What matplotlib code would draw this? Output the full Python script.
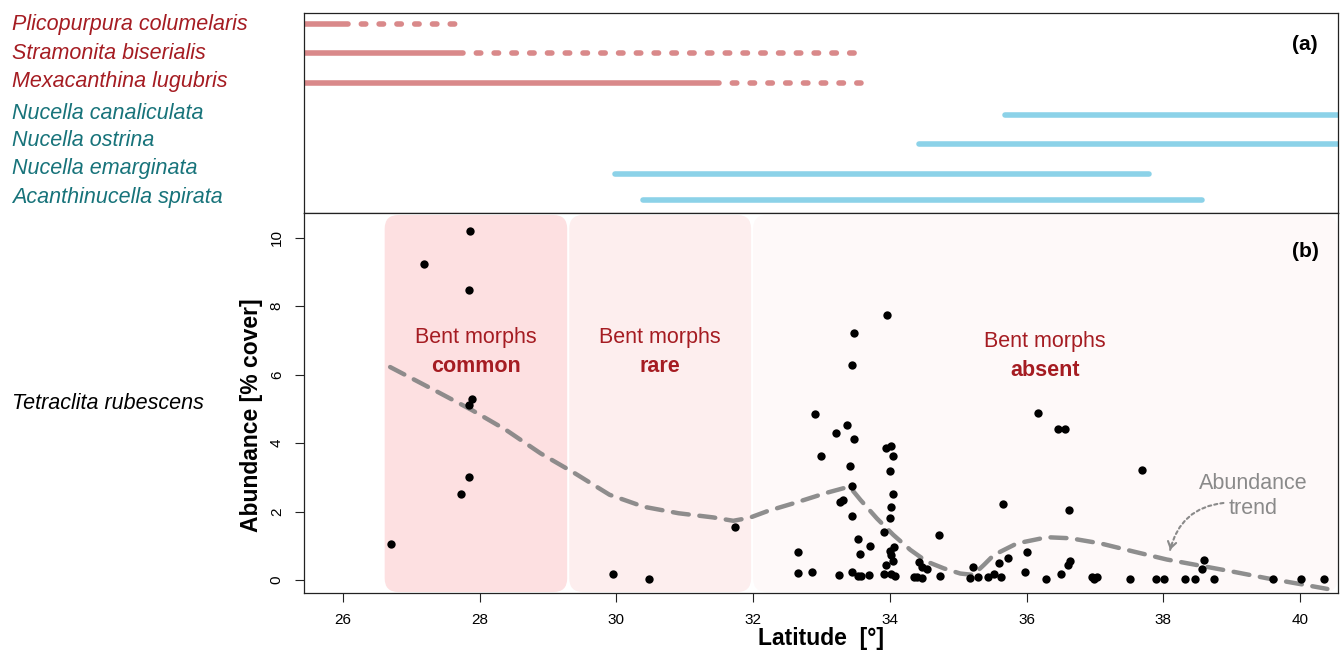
import numpy as np
import matplotlib.pyplot as plt
from matplotlib.patches import FancyBboxPatch, FancyArrowPatch
from matplotlib.transforms import blended_transform_factory

plt.rcParams['font.family'] = ['Liberation Sans', 'DejaVu Sans']

# ---- panel (a): species ranges ----
species = ['Plicopurpura columelaris', 'Stramonita biserialis', 'Mexacanthina lugubris',
           'Nucella canaliculata', 'Nucella ostrina', 'Nucella emarginata',
           'Acanthinucella spirata']
southern = [True, True, True, False, False, False, False]
row_y = [7.0, 6.0, 5.0, 3.9, 2.9, 1.9, 1.0]
label_y = [6.97, 6.00, 5.04, 3.94, 3.03, 2.07, 1.10]
range_start = [20.0, 20.0, 20.0, 35.69, 34.43, 29.98, 30.39]
solid_end = [26.07, 27.75, 31.50, 45.0, 45.0, 37.79, 38.57]
dashed_end = [27.64, 33.49, 33.58, None, None, None, None]

# ---- panel (b): Tetraclita rubescens abundance ----
lat = [26.70, 27.18, 27.86, 27.84, 27.89, 27.84, 27.85, 27.72, 29.95, 30.47, 31.73,
       33.96, 33.48, 33.45, 32.91, 33.38, 33.21, 33.47, 33.94, 34.02, 34.04,
       32.99, 33.41, 34.00, 33.44, 34.05, 33.27, 33.31, 34.02, 33.44, 34.00,
       33.91, 34.72, 33.54, 33.71, 32.66, 34.06, 34.00, 33.57, 34.02, 34.05,
       33.94, 34.43, 34.47, 34.54, 32.66, 32.86, 33.26, 33.45, 33.53, 33.58,
       33.70, 33.91, 34.01, 34.07, 34.35, 34.40, 34.47, 34.73,
       36.17, 36.46, 36.56, 37.69, 35.65, 36.62, 36.01, 35.73, 35.60, 35.22,
       36.63, 36.60, 35.98, 36.51, 38.59, 38.57, 35.17, 35.29, 35.44, 35.53,
       35.63, 36.28, 36.96, 36.99, 37.03, 37.52, 37.90, 38.01, 38.32, 38.46,
       38.74, 39.61, 40.02, 40.35]
abundance = [1.05, 9.23, 10.18, 8.47, 5.30, 5.11, 3.02, 2.52, 0.17, 0.03, 1.56,
             7.73, 7.21, 6.29, 4.85, 4.52, 4.28, 4.12, 3.85, 3.90, 3.63,
             3.63, 3.33, 3.18, 2.76, 2.51, 2.28, 2.34, 2.13, 1.86, 1.80,
             1.41, 1.31, 1.20, 1.00, 0.83, 0.96, 0.86, 0.77, 0.72, 0.57,
             0.44, 0.52, 0.39, 0.33, 0.20, 0.23, 0.16, 0.22, 0.11, 0.12,
             0.15, 0.17, 0.17, 0.11, 0.08, 0.09, 0.07, 0.13,
             4.88, 4.42, 4.41, 3.22, 2.23, 2.04, 0.81, 0.65, 0.49, 0.39,
             0.55, 0.45, 0.24, 0.19, 0.58, 0.32, 0.05, 0.08, 0.10, 0.17,
             0.10, 0.02, 0.08, 0.03, 0.10, 0.02, 0.02, 0.02, 0.03, 0.04,
             0.04, 0.02, 0.04, 0.03]

trend_lat = [26.69, 27.37, 27.88, 28.38, 28.89, 29.39, 29.90, 30.40, 30.91, 31.41,
             31.71, 31.95, 32.22, 32.59, 33.08, 33.32, 33.43, 33.57, 33.81, 34.05,
             34.30, 34.54, 34.79, 35.03, 35.22, 35.38, 35.52, 35.86, 36.30, 36.64,
             37.08, 37.57, 38.05, 38.54, 39.03, 39.52, 40.01, 40.40]
trend_ab = [6.22, 5.51, 4.97, 4.39, 3.70, 3.12, 2.49, 2.14, 1.95, 1.83,
            1.73, 1.82, 2.02, 2.24, 2.55, 2.68, 2.68, 2.34, 1.80, 1.32,
            0.88, 0.54, 0.34, 0.19, 0.15, 0.45, 0.73, 1.07, 1.25, 1.22,
            1.07, 0.83, 0.60, 0.42, 0.24, 0.05, -0.12, -0.26]

region_start = [26.61, 29.31, 32.00]
region_end = [29.28, 31.97, 40.55]
region_color = ['#fde0e1', '#fdeeee', '#fef9f9']
region_word = ['common', 'rare', 'absent']
region_text_x = [27.95, 30.63, 36.27]
region_text_y = [7.09, 7.09, 6.97]

lat_ticks = [26, 28, 30, 32, 34, 36, 38, 40]
ab_ticks = [0, 2, 4, 6, 8, 10]

red = '#a51c22'
teal = '#17737a'
pink_line = '#d9898a'
blue_line = '#8cd2e8'
grey = '#8a8a8a'

fig = plt.figure(figsize=(13.4, 6.5), dpi=100)
ax_a = fig.add_axes([0.22687, 0.67185, 0.77186, 0.30769])
ax_b = fig.add_axes([0.22687, 0.08815, 0.77186, 0.58370], sharex=ax_a)

ax_b.set_xlim(25.43, 40.56)
ax_b.set_ylim(-0.37, 10.71)
ax_a.set_ylim(0.547, 7.365)

for ax in (ax_a, ax_b):
    for sp in ax.spines.values():
        sp.set_linewidth(0.9)
        sp.set_color('#222222')

# panel (a)
lw_r = 4.0
label_tr = blended_transform_factory(fig.transFigure, ax_a.transData)
for i, name in enumerate(species):
    col = pink_line if southern[i] else blue_line
    ax_a.plot([range_start[i], solid_end[i]], [row_y[i], row_y[i]], color=col,
              lw=lw_r, solid_capstyle='round')
    if dashed_end[i] is not None:
        ax_a.plot([solid_end[i], dashed_end[i]], [row_y[i], row_y[i]], color=col,
                  lw=lw_r, linestyle=(0.8, (0.8, 2.4)), dash_capstyle='round')
    ax_a.text(0.009, label_y[i], name, transform=label_tr, ha='left', va='center',
              fontsize=15.5, style='italic', color=red if southern[i] else teal)
ax_a.tick_params(bottom=False, labelbottom=False, left=False, labelleft=False)
ax_a.text(0.9678, 0.8415, '(a)', transform=ax_a.transAxes, ha='center', va='center',
          fontsize=15, fontweight='bold')

# panel (b)
fig.canvas.draw()
bbox = ax_b.get_window_extent()
xr = np.diff(ax_b.get_xlim())[0] / bbox.width
yr = np.diff(ax_b.get_ylim())[0] / bbox.height
aspect = yr / xr
for x0, x1, c in zip(region_start, region_end, region_color):
    box = FancyBboxPatch((x0, -0.35), x1 - x0, 11.01,
                         boxstyle='round,pad=0,rounding_size=0.2',
                         mutation_aspect=aspect, facecolor=c, edgecolor='none',
                         zorder=0)
    ax_b.add_patch(box)

for x, y, w in zip(region_text_x, region_text_y, region_word):
    ax_b.text(x, y, 'Bent morphs', ha='center', va='center', fontsize=15.5, color=red)
    ax_b.text(x, y - 0.84, w, ha='center', va='center', fontsize=15.5, color=red,
              fontweight='bold')

ax_b.plot(trend_lat, trend_ab, color='#828282', lw=3.2, linestyle=(0, (3.6, 2.4)),
          dash_capstyle='round', alpha=0.9, zorder=2)
ax_b.scatter(lat, abundance, s=36, color='black', zorder=3, linewidths=0)

# annotation arrow
ax_b.text(39.32, 2.46, 'Abundance\ntrend', ha='center', va='center', fontsize=15.5,
          color=grey, linespacing=1.25)
tail = np.array([38.88, 2.25])
tip = np.array([38.10, 0.88])
rad = 0.35
curve = FancyArrowPatch(tail, tip, connectionstyle=f'arc3,rad={rad}', arrowstyle='-',
                        linestyle=(0, (1.5, 1.5)), color=grey, lw=1.5,
                        shrinkA=0, shrinkB=0, zorder=2)
ax_b.add_patch(curve)
p0 = ax_b.transData.transform(tail)
p1 = ax_b.transData.transform(tip)
d = p1 - p0
ctrl = (p0 + p1) / 2 + rad * np.array([d[1], -d[0]])
t = (p1 - ctrl) / np.hypot(*(p1 - ctrl))
base = ax_b.transData.inverted().transform(p1 - 6 * t)
ax_b.annotate('', xy=tip, xytext=base,
              arrowprops=dict(arrowstyle='->,head_length=0.45,head_width=0.3',
                              color=grey, lw=1.5, shrinkA=0, shrinkB=0))

ax_b.set_xticks(lat_ticks)
ax_b.set_yticks(ab_ticks)
ax_b.tick_params(direction='out', length=6.5, width=0.8, labelsize=11, color='#222222')
ax_b.tick_params(axis='x', pad=8)
ax_b.tick_params(axis='y', pad=8)
for lab in ax_b.get_yticklabels():
    lab.set_rotation(90)
    lab.set_va('center')

ax_b.set_ylabel('Abundance [% cover]', fontsize=16.5, fontweight='bold')
ax_b.yaxis.set_label_coords(-0.040, 0.467)
ax_b.set_xlabel('Latitude  [°]', fontsize=16.5, fontweight='bold')
ax_b.xaxis.set_label_coords(0.5, -0.090)
ax_b.text(0.9684, 0.898, '(b)', transform=ax_b.transAxes, ha='center', va='center',
          fontsize=15, fontweight='bold')

tb = blended_transform_factory(fig.transFigure, ax_b.transData)
ax_b.text(0.009, 5.15, 'Tetraclita rubescens', transform=tb, ha='left', va='center',
          fontsize=15.5, style='italic', color='black')

fig.savefig('out.png', dpi=100)
